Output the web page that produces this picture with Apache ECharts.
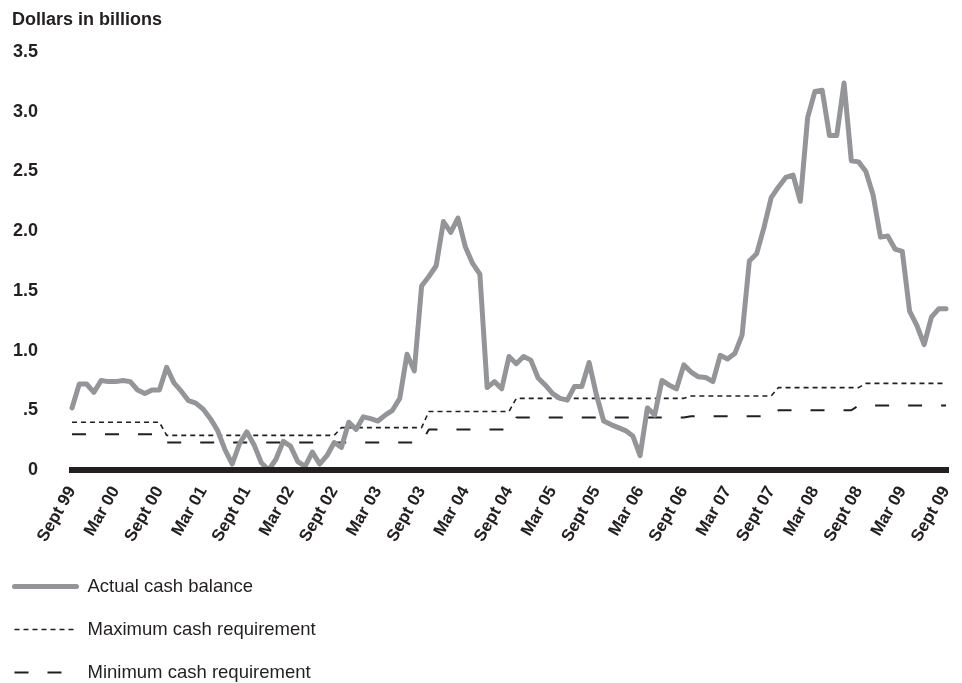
<!DOCTYPE html>
<html><head><meta charset="utf-8">
<script src="https://cdn.jsdelivr.net/npm/echarts@6/dist/echarts.min.js"></script>
<style>html,body{margin:0;padding:0;background:#fff}#c{width:962px;height:683px}</style>
</head><body><div id="c"></div>
<script>
const tickLabels = ['Sept 99','Mar 00','Sept 00','Mar 01','Sept 01','Mar 02','Sept 02','Mar 03','Sept 03','Mar 04','Sept 04','Mar 05','Sept 05','Mar 06','Sept 06','Mar 07','Sept 07','Mar 08','Sept 08','Mar 09','Sept 09'];

// Monthly actual cash balance, Sept 1999 - Sept 2009 (billions)
const actual = [
  0.52,0.72,0.72,0.65,0.75,0.74,0.74,0.75,0.74,0.67,0.64,0.67,
  0.67,0.86,0.73,0.66,0.58,0.56,0.51,0.43,0.33,0.17,0.05,0.22,
  0.32,0.21,0.06,0.00,0.09,0.24,0.20,0.07,0.03,0.15,0.05,0.12,
  0.23,0.19,0.40,0.34,0.445,0.43,0.41,0.46,0.50,0.60,0.97,0.83,
  1.54,1.62,1.71,2.08,1.99,2.11,1.87,1.73,1.64,0.69,0.74,0.68,
  0.95,0.89,0.95,0.92,0.77,0.71,0.64,0.60,0.585,0.70,0.70,0.90,
  0.63,0.41,0.38,0.355,0.33,0.285,0.12,0.52,0.46,0.75,0.71,0.68,
  0.88,0.82,0.78,0.775,0.74,0.96,0.93,0.975,1.13,1.75,1.81,2.03,
  2.28,2.37,2.45,2.47,2.25,2.95,3.17,3.18,2.80,2.80,3.24,2.59,
  2.58,2.50,2.30,1.95,1.96,1.85,1.83,1.33,1.21,1.05,1.28,1.35,
  1.35
];

// [month index, value] at each step of the requirement levels
const maxReq = [[0,0.40],[12,0.40],[13,0.29],[36,0.29],[37,0.355],[48,0.355],[49,0.49],[60,0.49],[61,0.60],[84,0.60],[85,0.62],[96,0.62],[97,0.69],[108,0.69],[109,0.725],[120,0.725]];
const minReq = [[0,0.30],[12,0.30],[13,0.23],[48,0.23],[49,0.34],[60,0.34],[61,0.44],[84,0.44],[85,0.45],[96,0.45],[97,0.50],[107,0.50],[108,0.54],[120,0.54]];

const seriesNames = ['Actual cash balance','Maximum cash requirement','Minimum cash requirement'];

const categories = actual.map((_, i) => String(i));
const FONT = '"Liberation Sans", Arial, Helvetica, sans-serif';
const INK = '#231f20';
const GRAY = '#939598';
const actualStyle = {color: GRAY, width: 5, cap: 'round', join: 'round'};
const maxStyle = {color: INK, width: 1.6, type: [5, 4]};
const minStyle = {color: INK, width: 2, type: [14, 19]};
const hiddenSymbol = {color: 'rgba(0,0,0,0)', borderColor: 'rgba(0,0,0,0)', borderWidth: 0, opacity: 0};

const chart = echarts.init(document.getElementById('c'), null, {renderer: 'canvas'});
chart.setOption({
  animation: false,
  backgroundColor: '#fff',
  textStyle: {fontFamily: FONT},
  title: {
    text: 'Dollars in billions', left: 12, top: 11, padding: 0,
    textStyle: {fontSize: 18, fontWeight: 'bold', color: INK, fontFamily: FONT}
  },
  grid: {left: 72, right: 16, top: 52, bottom: 213, containLabel: false},
  legend: {
    orient: 'vertical', left: 12, top: 577, padding: 0, height: 110,
    itemWidth: 62, itemHeight: 14, itemGap: 24,
    itemStyle: hiddenSymbol,
    textStyle: {fontSize: 18.5, color: INK, fontFamily: FONT, lineHeight: 18, padding: [0,0,0,6]},
    data: [
      {name: seriesNames[0], lineStyle: actualStyle, itemStyle: hiddenSymbol},
      {name: seriesNames[1], lineStyle: maxStyle, itemStyle: hiddenSymbol},
      {name: seriesNames[2], lineStyle: minStyle, itemStyle: hiddenSymbol}
    ]
  },
  xAxis: {
    type: 'category', data: categories, boundaryGap: false, z: 5,
    axisLine: {show: true, onZero: false, lineStyle: {color: INK, width: 6, cap: 'square'}},
    axisTick: {show: false},
    splitLine: {show: false},
    axisLabel: {
      interval: (i) => i % 6 === 0,
      formatter: (v, i) => (i % 6 === 0 ? tickLabels[i / 6] : ''),
      rotate: 60, margin: 18, fontSize: 17, fontWeight: 'bold', color: INK, fontFamily: FONT
    }
  },
  yAxis: {
    type: 'value', min: 0, max: 3.5, interval: 0.5,
    axisLine: {show: false}, axisTick: {show: false}, splitLine: {show: false},
    axisLabel: {
      margin: 34, fontSize: 18, fontWeight: 'bold', color: INK, fontFamily: FONT,
      formatter: (v) => v === 0 ? '0' : (v === 0.5 ? '.5' : v.toFixed(1))
    }
  },
  series: [
    {
      name: seriesNames[0], type: 'line', data: actual, symbol: 'none', z: 3,
      lineStyle: actualStyle, itemStyle: {color: GRAY}
    },
    {
      name: seriesNames[1], type: 'line', data: maxReq, symbol: 'none', z: 2,
      lineStyle: maxStyle, itemStyle: {color: INK}
    },
    {
      name: seriesNames[2], type: 'line', data: minReq, symbol: 'none', z: 2,
      lineStyle: minStyle, itemStyle: {color: INK}
    }
  ]
});
</script>
</body></html>
